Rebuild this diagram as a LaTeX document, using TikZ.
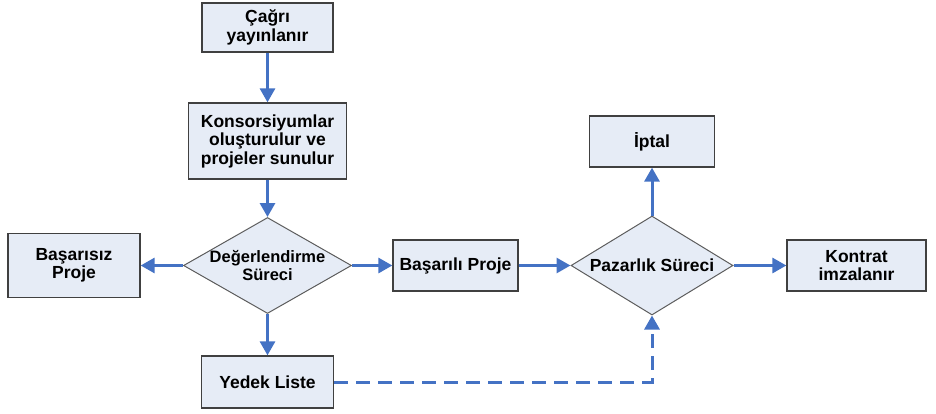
\documentclass[tikz,border=0pt]{standalone}
\usepackage{fontspec}
\setmainfont{Liberation Sans}
\usetikzlibrary{shapes.geometric,arrows.meta}
\definecolor{boxfill}{HTML}{E6ECF6}
\definecolor{boxline}{HTML}{404040}
\definecolor{arr}{HTML}{4472C4}
\begin{document}
\begin{tikzpicture}[x=1pt,y=-1pt,
 txt/.style={font=\fontsize{17.5}{18.5}\selectfont\bfseries,align=center},
 box/.style={txt,draw=boxline,line width=1.3pt,fill=boxfill,inner sep=0pt},
 dia/.style={diamond,draw=boxline!85,line width=1pt,fill=boxfill,inner sep=0pt},
 flow/.style={draw=arr,line width=3pt,-{Triangle[length=14pt,width=15pt]}},
 dflow/.style={flow,dash pattern=on 14pt off 8pt}]
\useasboundingbox (0,0) rectangle (936,413);
\node[box,minimum width=131pt,minimum height=49pt] (cagri) at (267.5,27.5) {Çağrı\\yayınlanır};
\node[box,minimum width=158pt,minimum height=76pt] (kons) at (267.5,141) {Konsorsiyumlar\\oluşturulur ve\\projeler sunulur};
\node[dia,minimum width=168pt,minimum height=96pt] (deg) at (267.5,265.5) {};
\node[txt,font=\fontsize{16.5}{18.5}\selectfont\bfseries] (degt) at (deg.center) {Değerlendirme\\Süreci};
\node[box,minimum width=132pt,minimum height=64pt] (basz) at (74,265.5) {Başarısız\\Proje};
\node[box,minimum width=132pt,minimum height=52pt] (yedek) at (267.5,382) {Yedek Liste};
\node[box,minimum width=125pt,minimum height=51pt] (basl) at (455.5,265.5) {Başarılı Proje};
\node[dia,minimum width=162pt,minimum height=99pt] (paz) at (652,265.5) {};
\node[txt] (pazt) at (paz.center) {Pazarlık Süreci};
\node[box,minimum width=125pt,minimum height=51pt] (iptal) at (652,141.5) {İptal};
\node[box,minimum width=139pt,minimum height=51pt] (kontrat) at (856.5,265.5) {Kontrat\\imzalanır};
\draw[flow] (cagri) -- (kons);
\draw[flow] (kons) -- (deg);
\draw[flow] (deg.west) -- (basz.east);
\draw[flow] (deg.east) -- (basl.west);
\draw[flow] (deg.south) -- (yedek.north);
\draw[flow] (basl.east) -- (paz.west);
\draw[flow] (paz.north) -- (iptal.south);
\draw[flow] (paz.east) -- (kontrat.west);
\draw[dflow] (yedek.east) -| (paz.south);
\end{tikzpicture}
\end{document}
